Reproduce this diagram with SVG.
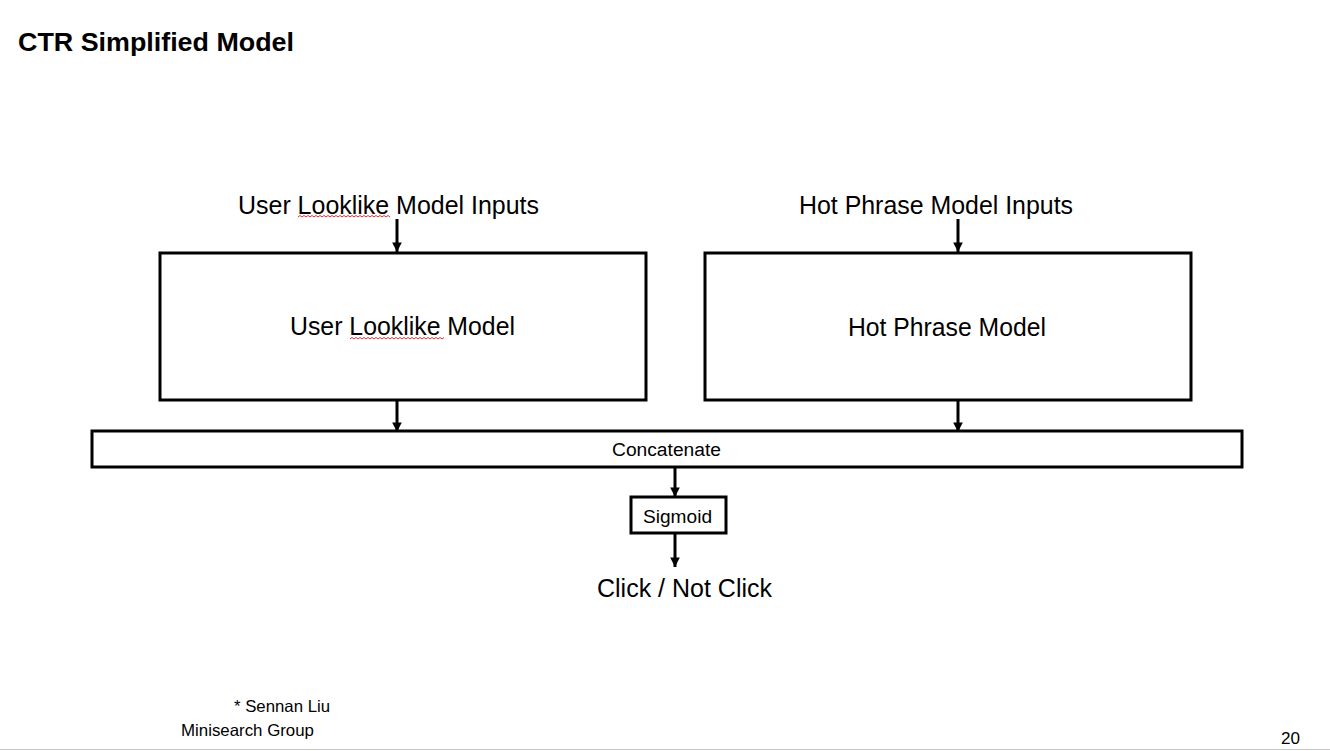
<svg xmlns="http://www.w3.org/2000/svg" width="1330" height="751" viewBox="0 0 1330 751">
<style>
text{font-family:"Liberation Sans",Arial,sans-serif;fill:#000}
.box{fill:#fff;stroke:#000;stroke-width:3}
.big{font-size:25px}
.mid{font-size:18px}
.sm{font-size:16.5px}
.conn line{stroke:#000;stroke-width:3}
.sq{fill:none;stroke:#e03030;stroke-width:1}
</style>
<defs>
<marker id="ah" viewBox="0 0 10 10" refX="10" refY="5" markerWidth="3.2" markerHeight="4.6" markerUnits="strokeWidth" orient="auto">
<path d="M0,0 L10,5 L0,10 z" fill="#000"/>
</marker>
</defs>
<rect width="1330" height="751" fill="#fff"/>
<line x1="0" y1="749.5" x2="1330" y2="749.5" stroke="#c8c8c8" stroke-width="1"/>
<text x="18" y="51" style="font-size:26px;font-weight:bold" textLength="276" lengthAdjust="spacingAndGlyphs">CTR Simplified Model</text>
<g id="in1"><text class="big" x="238" y="214" textLength="301" lengthAdjust="spacingAndGlyphs">User Looklike Model Inputs</text>
<path class="sq" d="M298,217 l2,-1.5 2,1.5 2,-1.5 2,1.5 2,-1.5 2,1.5 2,-1.5 2,1.5 2,-1.5 2,1.5 2,-1.5 2,1.5 2,-1.5 2,1.5 2,-1.5 2,1.5 2,-1.5 2,1.5 2,-1.5 2,1.5 2,-1.5 2,1.5 2,-1.5 2,1.5 2,-1.5 2,1.5 2,-1.5 2,1.5 2,-1.5 2,1.5 2,-1.5 2,1.5 2,-1.5 2,1.5 2,-1.5 2,1.5 2,-1.5 2,1.5 2,-1.5 2,1.5 2,-1.5 2,1.5 2,-1.5 2,1.5 2,-1.5 2,1.5"/></g>
<g id="in2"><text class="big" x="799" y="214" textLength="274" lengthAdjust="spacingAndGlyphs">Hot Phrase Model Inputs</text></g>
<g id="m1"><rect class="box" x="160" y="253" width="486" height="147"/><text class="big" x="290" y="335" textLength="225" lengthAdjust="spacingAndGlyphs">User Looklike Model</text>
<path class="sq" d="M350,339 l2,-1.5 2,1.5 2,-1.5 2,1.5 2,-1.5 2,1.5 2,-1.5 2,1.5 2,-1.5 2,1.5 2,-1.5 2,1.5 2,-1.5 2,1.5 2,-1.5 2,1.5 2,-1.5 2,1.5 2,-1.5 2,1.5 2,-1.5 2,1.5 2,-1.5 2,1.5 2,-1.5 2,1.5 2,-1.5 2,1.5 2,-1.5 2,1.5 2,-1.5 2,1.5 2,-1.5 2,1.5 2,-1.5 2,1.5 2,-1.5 2,1.5 2,-1.5 2,1.5 2,-1.5 2,1.5 2,-1.5 2,1.5 2,-1.5 2,1.5 2,-1.5"/></g>
<g id="m2"><rect class="box" x="705" y="253" width="486" height="147"/><text class="big" x="848" y="336" textLength="198" lengthAdjust="spacingAndGlyphs">Hot Phrase Model</text></g>
<g id="concat"><rect class="box" x="92" y="431" width="1150" height="36"/><text class="mid" x="612" y="456" textLength="109" lengthAdjust="spacingAndGlyphs">Concatenate</text></g>
<g id="sigmoid"><rect class="box" x="631" y="497" width="95" height="36"/><text class="mid" x="643" y="523" textLength="69" lengthAdjust="spacingAndGlyphs">Sigmoid</text></g>
<g id="out"><text class="big" x="597" y="597" textLength="175" lengthAdjust="spacingAndGlyphs">Click / Not Click</text></g>
<g class="conn" id="connectors">
<line x1="397" y1="219" x2="397" y2="252" marker-end="url(#ah)"/>
<line x1="958" y1="219" x2="958" y2="252" marker-end="url(#ah)"/>
<line x1="397" y1="401" x2="397" y2="432" marker-end="url(#ah)"/>
<line x1="958" y1="401" x2="958" y2="432" marker-end="url(#ah)"/>
<line x1="675" y1="468" x2="675" y2="497" marker-end="url(#ah)"/>
<line x1="675" y1="534" x2="675" y2="567" marker-end="url(#ah)"/>
</g>
<text class="sm" x="234" y="712" textLength="96" lengthAdjust="spacingAndGlyphs">* Sennan Liu</text>
<text class="sm" x="181" y="736" textLength="133" lengthAdjust="spacingAndGlyphs">Minisearch Group</text>
<text class="sm" x="1281" y="744" textLength="19" lengthAdjust="spacingAndGlyphs">20</text>
</svg>
